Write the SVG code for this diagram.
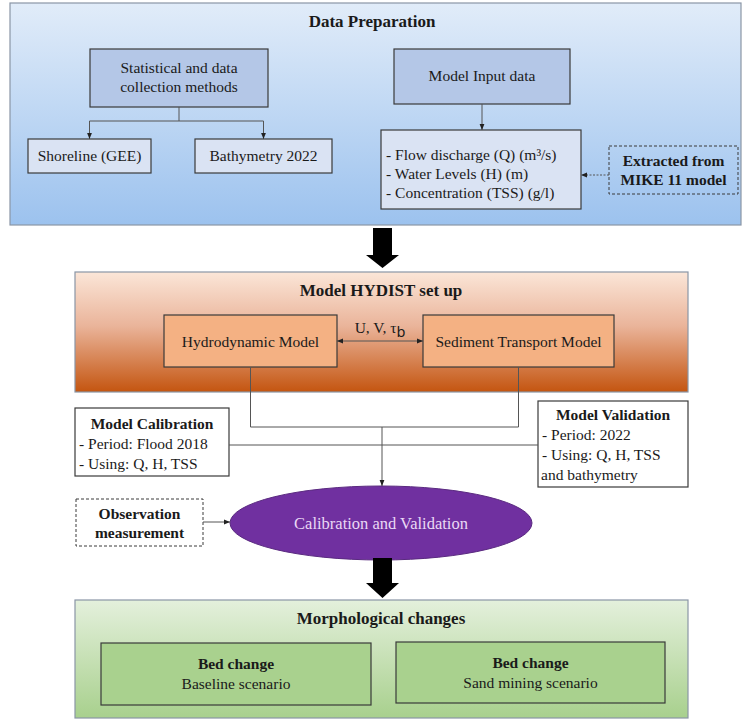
<svg xmlns="http://www.w3.org/2000/svg" width="744" height="719" viewBox="0 0 744 719" font-family="'Liberation Serif', 'Times New Roman', 'DejaVu Serif', serif">
<defs>
<linearGradient id="gBlue" x1="0" y1="0" x2="0" y2="1"><stop offset="0" stop-color="#e1ecf9"/><stop offset="1" stop-color="#9cc2ee"/></linearGradient>
<linearGradient id="gOrange" x1="0" y1="0" x2="0" y2="1"><stop offset="0" stop-color="#fbe6d8"/><stop offset="0.45" stop-color="#eab49a"/><stop offset="1" stop-color="#c45510"/></linearGradient>
<linearGradient id="gGreen" x1="0" y1="0" x2="0" y2="1"><stop offset="0" stop-color="#e4f0dc"/><stop offset="1" stop-color="#a8d08d"/></linearGradient>
<marker id="ah" viewBox="0 0 10 10" refX="10" refY="5" markerWidth="6" markerHeight="6" orient="auto-start-reverse"><path d="M0,1 L10,5 L0,9 z" fill="#222"/></marker>
</defs>
<style>
text{font-family:'Liberation Serif','Times New Roman','DejaVu Serif',serif;fill:#1a1a1a}
.t{font-size:15.5px}
.b{font-weight:bold}
.h{font-size:17px;font-weight:bold}
.c{text-anchor:middle}
.panel{stroke:#8a96a6;stroke-width:1.2}
.box{stroke:#3a3a3a;stroke-width:1.2}
.dash{fill:none;stroke:#3a3a3a;stroke-width:1;stroke-dasharray:3,2}
.ln{fill:none;stroke:#555;stroke-width:1}
</style>

<g id="data-preparation">
<rect class="panel" x="10" y="3" width="731" height="222" fill="url(#gBlue)"/>
<text class="h c" x="372" y="27">Data Preparation</text>
</g>
<g id="statistical-methods">
<rect class="box" x="90" y="49" width="178" height="58" fill="#b4c7e7"/>
<text class="t c" x="179" y="73">Statistical and data</text>
<text class="t c" x="179" y="92">collection methods</text>
</g>
<g id="model-input">
<rect class="box" x="394" y="49" width="176" height="55" fill="#b4c7e7"/>
<text class="t c" x="482" y="81">Model Input data</text>
</g>
<g id="shoreline">
<rect class="box" x="28" y="139" width="123" height="34" fill="#dae3f3"/>
<text class="t c" x="89.5" y="161">Shoreline (GEE)</text>
</g>
<g id="bathymetry">
<rect class="box" x="195" y="139" width="137" height="34" fill="#dae3f3"/>
<text class="t c" x="263.5" y="161">Bathymetry 2022</text>
</g>
<g id="input-list">
<rect class="box" x="381" y="130" width="200" height="79" fill="#dae3f3"/>
<text class="t" x="386" y="160">- Flow discharge (Q) (m³/s)</text>
<text class="t" x="386" y="179">- Water Levels (H) (m)</text>
<text class="t" x="386" y="198">- Concentration (TSS) (g/l)</text>
</g>
<g id="mike11">
<rect class="dash" x="609" y="146" width="129" height="48"/>
<text class="t b c" x="673.5" y="166">Extracted from</text>
<text class="t b c" x="673.5" y="185">MIKE 11 model</text>
</g>

<g id="model-hydist">
<rect class="panel" x="75" y="272" width="613" height="120" fill="url(#gOrange)"/>
<text class="h c" x="381" y="296">Model HYDIST set up</text>
</g>
<g id="hydrodynamic">
<rect class="box" x="164" y="315" width="173" height="52" fill="#f4b183"/>
<text class="t c" x="250.5" y="347">Hydrodynamic Model</text>
</g>
<g id="sediment">
<rect class="box" x="423" y="315" width="191" height="52" fill="#f4b183"/>
<text class="t c" x="518.5" y="347">Sediment Transport Model</text>
</g>

<g id="calibration">
<rect class="box" x="75" y="408" width="154" height="68" fill="#fff"/>
<text class="t b c" x="152" y="429">Model Calibration</text>
<text class="t" x="79" y="449">- Period: Flood 2018</text>
<text class="t" x="79" y="469">- Using: Q, H, TSS</text>
</g>
<g id="validation">
<rect class="box" x="538" y="401" width="150" height="86" fill="#fff"/>
<text class="t b c" x="613" y="420">Model Validation</text>
<text class="t" x="542" y="440">- Period: 2022</text>
<text class="t" x="542" y="460">- Using: Q, H, TSS</text>
<text class="t" x="541" y="480">and bathymetry</text>
</g>
<g id="observation">
<rect class="dash" x="76" y="499" width="127" height="47"/>
<text class="t b c" x="139.5" y="519">Observation</text>
<text class="t b c" x="139.5" y="538">measurement</text>
</g>
<g id="calib-valid">
<ellipse cx="381" cy="523" rx="151" ry="37" fill="#7030a0" stroke="#5a2a80" stroke-width="1"/>
<text class="c" x="381" y="529" style="font-size:16.5px;fill:#ead9f5">Calibration and Validation</text>
</g>

<g id="morphological">
<rect class="panel" x="75" y="600" width="613" height="118" fill="url(#gGreen)"/>
<text class="h c" x="381" y="624">Morphological changes</text>
</g>
<g id="bed-baseline">
<rect class="box" x="101" y="643" width="270" height="62" fill="#a9d18e"/>
<text class="t b c" x="236" y="669">Bed change</text>
<text class="t c" x="236" y="689">Baseline scenario</text>
</g>
<g id="bed-sand">
<rect class="box" x="396" y="642" width="269" height="61" fill="#a9d18e"/>
<text class="t b c" x="530.5" y="668">Bed change</text>
<text class="t c" x="530.5" y="688">Sand mining scenario</text>
</g>

<g id="connectors">
<polyline class="ln" points="179,107 179,121"/>
<polyline class="ln" points="89.5,139 89.5,121 263.5,121 263.5,139" marker-start="url(#ah)" marker-end="url(#ah)"/>
<line class="ln" x1="482" y1="104" x2="482" y2="130" marker-end="url(#ah)"/>
<line class="ln" x1="609" y1="175" x2="581" y2="175" stroke-dasharray="2,1.5" marker-end="url(#ah)"/>
<line class="ln" x1="337" y1="341" x2="423" y2="341" marker-start="url(#ah)" marker-end="url(#ah)"/>
<text class="t c" x="380" y="333">U, V, τ<tspan dy="4" style="font-family:'DejaVu Sans',sans-serif;font-size:14px">b</tspan></text>
<polyline class="ln" points="250.5,367 250.5,427 518.5,427 518.5,367"/>
<line class="ln" x1="382" y1="427" x2="382" y2="486" marker-end="url(#ah)"/>
<line class="ln" x1="229" y1="445" x2="538" y2="445"/>
<line class="ln" x1="203" y1="522" x2="230" y2="522" marker-end="url(#ah)"/>
<polygon points="373,228 392,228 392,255 399,255 382.5,268 366,255 373,255" fill="#000"/>
<polygon points="373,558 392,558 392,583 399,583 382.5,598 366,583 373,583" fill="#000"/>
</g>
</svg>
